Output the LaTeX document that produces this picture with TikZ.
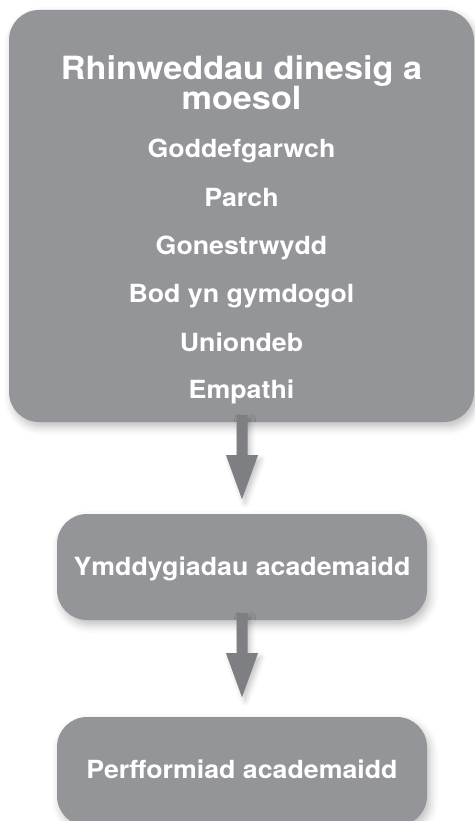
\documentclass[tikz,border=0pt]{standalone}
\usepackage{fontspec}
\setmainfont{TeX Gyre Heros}
\newfontfamily\widehel[FakeStretch=1.07]{TeX Gyre Heros}
\usetikzlibrary{calc,shadows.blur}
\definecolor{boxgray}{RGB}{147,149,152}
\definecolor{arrowgray}{RGB}{126,127,131}
\tikzset{
  boxshape/.style={fill=boxgray, rounded corners=30pt, inner sep=0pt,
    blur shadow={shadow xshift=3pt, shadow yshift=-5pt, shadow blur radius=8pt, shadow opacity=25}},
  titletext/.style={text=white, anchor=base, inner sep=0pt, font=\widehel\bfseries\fontsize{32}{30}\selectfont},
  itemtext/.style={text=white, anchor=base, inner sep=0pt, font=\widehel\bfseries\fontsize{25}{25}\selectfont},
  arrowfill/.style={fill=arrowgray,
    blur shadow={shadow xshift=3pt, shadow yshift=-4pt, shadow blur radius=5pt, shadow opacity=22}}
}
\begin{document}
\begin{tikzpicture}[x=1pt,y=-1pt]
\useasboundingbox (0,0) rectangle (474,821);
% boxes
\path[boxshape] (9,10) rectangle (474,422);
\node[minimum width=465pt, minimum height=412pt, inner sep=0pt] (top) at (241.5,216) {};
\path[boxshape] (57,514) rectangle (427,620);
\node[minimum width=370pt, minimum height=106pt, inner sep=0pt] (mid) at (242,567) {};
\path[boxshape] (57,717) rectangle (427,826);
\node[minimum width=370pt, minimum height=104pt, inner sep=0pt] (bot) at (242,769) {};
% texts
\node[titletext] (t1) at (241.5,80) {Rhinweddau dinesig a};
\node[titletext] (t2) at (241.5,110) {moesol};
\node[itemtext] (i1) at (241.5,158) {Goddefgarwch};
\node[itemtext] (i2) at (241.5,206) {Parch};
\node[itemtext] (i3) at (241.5,254) {Gonestrwydd};
\node[itemtext] (i4) at (241.5,302) {Bod yn gymdogol};
\node[itemtext] (i5) at (241.5,351) {Uniondeb};
\node[itemtext] (i6) at (241.5,398) {Empathi};
\node[itemtext] (m1) at (242,575) {Ymddygiadau academaidd};
\node[itemtext] (b1) at (242,778) {Perfformiad academaidd};
% arrows
\coordinate (a1) at ($(top.south)+(0.5,-7)$);
\fill[arrowfill] ($(a1)+(-5.5,0)$) -- ($(a1)+(5.5,0)$) -- ($(a1)+(5.5,40)$) -- ($(a1)+(16,40)$)
  -- ($(a1)+(0,84)$) -- ($(a1)+(-16,40)$) -- ($(a1)+(-5.5,40)$) -- cycle;
\coordinate (a2) at ($(mid.south)+(0,-7)$);
\fill[arrowfill] ($(a2)+(-5.5,0)$) -- ($(a2)+(5.5,0)$) -- ($(a2)+(5.5,40)$) -- ($(a2)+(16,40)$)
  -- ($(a2)+(0,84)$) -- ($(a2)+(-16,40)$) -- ($(a2)+(-5.5,40)$) -- cycle;
\end{tikzpicture}
\end{document}
